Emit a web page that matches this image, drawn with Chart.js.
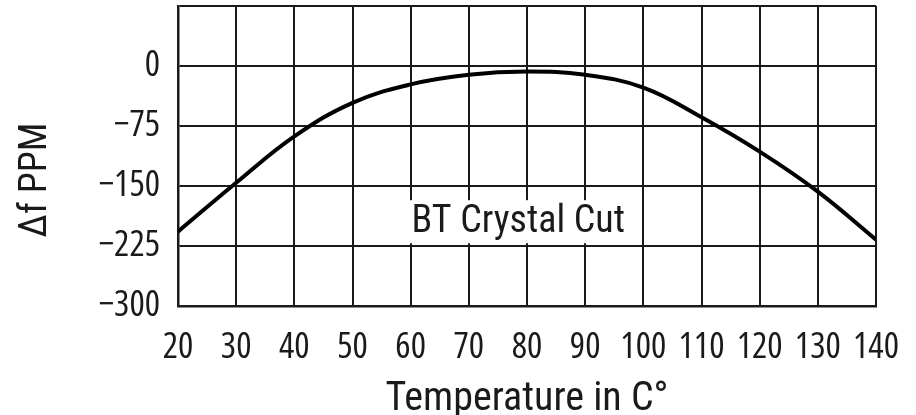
<!DOCTYPE html>
<html>
<head>
<meta charset="utf-8">
<script src="https://cdn.jsdelivr.net/npm/chart.js@4.4.1/dist/chart.umd.min.js"></script>
<style>
  html, body { margin: 0; padding: 0; background: #fff; }
  #wrap { width: 916px; height: 415px; position: relative; }
</style>
</head>
<body>
<div id="wrap"><canvas id="c" width="916" height="415"></canvas></div>
<script>
const temperatures = [20, 30, 40, 50, 60, 70, 80, 90, 100, 110, 120, 130, 140];
const deltaPPM = [-207, -146, -88, -46, -23, -11, -7, -11, -27, -64, -107, -157, -217];
const yTicks = [75, 0, -75, -150, -225, -300];
const xTitle = 'Temperature in C°';
const yTitle = 'Δf PPM';
const curveLabel = 'BT Crystal Cut';

const TICK_FONT = '"Open Sans", "Liberation Sans", sans-serif';
const TEXT_FONT = 'Roboto, "Liberation Sans", sans-serif';
const INK = '#1a1a1a';

const extras = {
  id: 'extras',
  afterDatasetsDraw(chart) {
    const ctx = chart.ctx;
    const xs = chart.scales.x, ys = chart.scales.y;
    // curve label with white box
    ctx.save();
    ctx.font = 'condensed 38px ' + TEXT_FONT;
    const cx = xs.getPixelForValue(78.5);
    const cy = ys.getPixelForValue(-194);
    const w = ctx.measureText(curveLabel).width;
    ctx.fillStyle = '#fff';
    ctx.fillRect(cx - w / 2 - 10, cy - 21, w + 20, 43);
    ctx.fillStyle = INK;
    ctx.textAlign = 'center';
    ctx.textBaseline = 'middle';
    ctx.fillText(curveLabel, cx, cy + 1);
    ctx.restore();
    // y title
    ctx.save();
    ctx.font = 'condensed 38px ' + TEXT_FONT;
    ctx.fillStyle = INK;
    ctx.translate(36, 180);
    ctx.rotate(-Math.PI / 2);
    ctx.textAlign = 'center';
    ctx.textBaseline = 'middle';
    ctx.fillText(yTitle, 0, 0);
    ctx.restore();
  }
};

new Chart(document.getElementById('c'), {
  type: 'line',
  data: {
    datasets: [{
      data: temperatures.map((t, i) => ({ x: t, y: deltaPPM[i] })),
      borderColor: '#000',
      borderWidth: 4,
      pointRadius: 0,
      fill: false,
      tension: 0.4
    }]
  },
  options: {
    responsive: false,
    animation: false,
    devicePixelRatio: 1,
    layout: { autoPadding: false, padding: { top: 6, right: 40, left: 0, bottom: 0 } },
    plugins: { legend: { display: false }, tooltip: { enabled: false } },
    scales: {
      x: {
        type: 'linear',
        min: 20, max: 140,
        afterFit(s) { s.height = 109; s.paddingLeft = 0; s.paddingRight = 0; },
        afterBuildTicks(s) { s.ticks = temperatures.map(v => ({ value: v })); },
        grid: { color: INK, lineWidth: 2, drawTicks: false },
        border: { color: INK, width: 2.5 },
        ticks: {
          color: INK,
          font: { family: TICK_FONT, size: 36, weight: 'condensed' },
          padding: 20,
          maxRotation: 0,
          autoSkip: false
        },
        title: {
          display: true,
          text: xTitle,
          color: INK,
          font: { family: TEXT_FONT, size: 40, weight: 'condensed' },
          padding: { top: 0, bottom: -9 }
        }
      },
      y: {
        type: 'linear',
        min: -300, max: 75,
        afterFit(s) { s.width = 178; s.paddingTop = 0; s.paddingBottom = 0; },
        afterBuildTicks(s) { s.ticks = yTicks.map(v => ({ value: v })); },
        grid: { color: INK, lineWidth: 2, drawTicks: false },
        border: { color: INK, width: 2.5 },
        ticks: {
          color: INK,
          font: { family: TICK_FONT, size: 36, weight: 'condensed' },
          padding: 18,
          callback: v => v === 75 ? '' : (v < 0 ? '\u2212' + Math.abs(v) : String(v))
        }
      }
    }
  },
  plugins: [extras]
});
</script>
</body>
</html>
